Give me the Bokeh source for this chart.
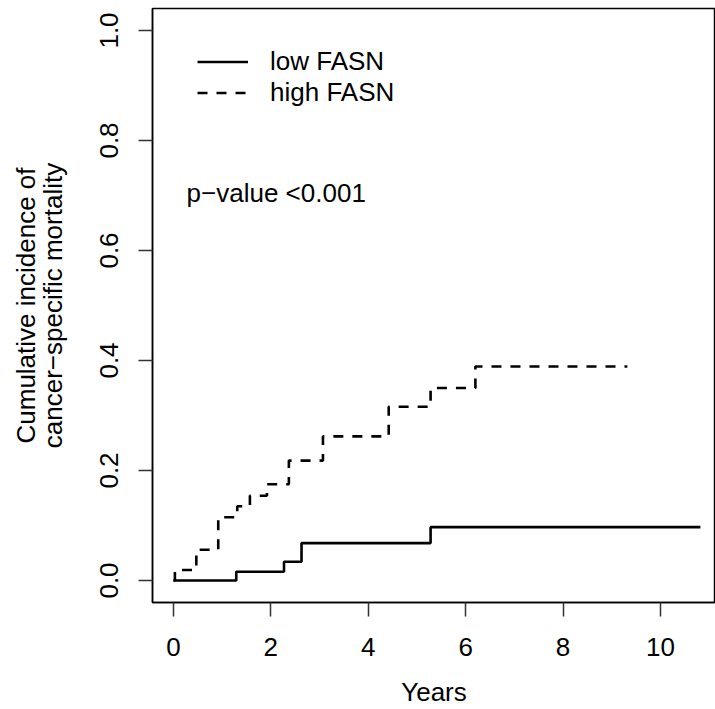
from bokeh.plotting import figure
from bokeh.models import Range1d, Legend, LegendItem, Label, FixedTicker, LinearAxis
from bokeh.embed import file_html
from bokeh.resources import INLINE

# Data
low_t = [0.0, 1.29, 2.27, 2.63, 5.28, 10.82]
low_y = [0.0, 0.016, 0.034, 0.068, 0.097, 0.097]

high_t = [0.0, 0.03, 0.47, 0.92, 1.31, 1.57, 1.92, 2.37, 3.07, 4.42, 5.28, 6.20, 9.32]
high_y = [0.0, 0.019, 0.056, 0.115, 0.135, 0.154, 0.175, 0.218, 0.262, 0.316, 0.350, 0.389, 0.389]

x_ticks = [0, 2, 4, 6, 8, 10]
y_ticks = [0.0, 0.2, 0.4, 0.6, 0.8, 1.0]
series_names = ["low FASN", "high FASN"]
p_text = "p\u2212value <0.001"
x_title = "Years"
y_title_lines = ["Cumulative incidence of", "cancer\u2212specific mortality"]

FONT = "Liberation Sans"
FS = "26px"

p = figure(width=715, height=709, output_backend="svg", toolbar_location=None,
           x_range=Range1d(-0.43, 11.13), y_range=Range1d(-0.04, 1.04),
           min_border_left=152, min_border_right=0, min_border_top=8,
           min_border_bottom=106)

p.grid.visible = False
p.outline_line_color = "black"
p.outline_line_width = 1.5
p.background_fill_color = "white"
p.border_fill_color = "white"

r_low = p.step(low_t, low_y, mode="after", line_color="black", line_width=2.6)
r_high = p.step(high_t, high_y, mode="after", line_color="black", line_width=2.6,
                line_dash="10 9")


def style_axis(ax):
    ax.axis_line_color = "black"
    ax.axis_line_width = 1.5
    ax.major_tick_line_color = "#333333"
    ax.major_tick_line_width = 1.5
    ax.major_tick_out = 14
    ax.major_tick_in = 0
    ax.minor_tick_out = 0
    ax.minor_tick_in = 0
    ax.major_label_text_font = FONT
    ax.major_label_text_font_size = FS
    ax.major_label_text_color = "black"
    ax.axis_label_text_font = FONT
    ax.axis_label_text_font_size = FS
    ax.axis_label_text_font_style = "normal"
    ax.axis_label_text_color = "black"


style_axis(p.xaxis[0])
style_axis(p.yaxis[0])

p.xaxis.ticker = FixedTicker(ticks=x_ticks)
p.yaxis.ticker = FixedTicker(ticks=y_ticks)
p.xaxis.major_label_overrides = {t: str(t) for t in x_ticks}
p.yaxis.major_label_overrides = {t: f"{t:.1f}" for t in y_ticks}
p.yaxis.major_label_orientation = "vertical"
p.xaxis.major_label_standoff = 21
p.yaxis.major_label_standoff = 21
p.xaxis.axis_label = x_title
p.xaxis.axis_label_standoff = 18
p.yaxis.axis_label = y_title_lines[1]
p.yaxis.axis_label_standoff = 29

# outer axis that only carries the first line of the y title
outer = LinearAxis(ticker=FixedTicker(ticks=[]), axis_label=y_title_lines[0])
style_axis(outer)
outer.axis_line_color = None
outer.major_tick_line_color = None
outer.major_label_text_font_size = "0px"
outer.major_tick_out = 0
outer.major_label_standoff = 0
outer.axis_label_standoff = -6
p.add_layout(outer, "left")

legend = Legend(items=[LegendItem(label=series_names[0], renderers=[r_low]),
                       LegendItem(label=series_names[1], renderers=[r_high])],
                location=(45, 494), border_line_color=None,
                background_fill_alpha=0, glyph_width=51, glyph_height=31,
                label_height=31, label_standoff=22, spacing=0, padding=0,
                margin=0, label_text_font=FONT, label_text_font_size=FS,
                label_text_color="black")
p.add_layout(legend, "center")

p.add_layout(Label(x=0.27, y=0.705, text=p_text, text_font=FONT,
                   text_font_size=FS, text_color="black",
                   text_baseline="middle", text_align="left"))

open("out.html", "w").write(file_html(p, INLINE))
